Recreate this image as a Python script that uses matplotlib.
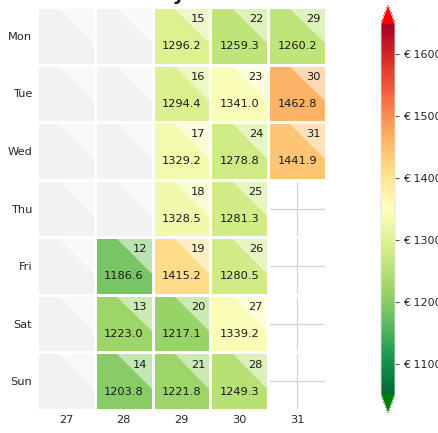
import matplotlib
matplotlib.use("Agg")
import matplotlib.pyplot as plt
import matplotlib.colors as mcolors
from matplotlib.patches import Rectangle, Polygon
import numpy as np

# ---- data ----
weeks = [27, 28, 29, 30, 31]
weekdays = ["Mon", "Tue", "Wed", "Thu", "Fri", "Sat", "Sun"]
day_numbers = [12, 13, 14, 15, 16, 17, 18, 19, 20, 21, 22, 23, 24, 25, 26, 27, 28, 29, 30, 31]
day_weeks   = [28, 28, 28, 29, 29, 29, 29, 29, 29, 29, 30, 30, 30, 30, 30, 30, 30, 31, 31, 31]
day_wdays   = [4, 5, 6, 0, 1, 2, 3, 4, 5, 6, 0, 1, 2, 3, 4, 5, 6, 0, 1, 2]
values = [1186.6, 1223.0, 1203.8,
          1296.2, 1294.4, 1329.2, 1328.5, 1415.2, 1217.1, 1221.8,
          1259.3, 1341.0, 1278.8, 1281.3, 1280.5, 1339.2, 1249.3,
          1260.2, 1462.8, 1441.9]
# days of the month without data (July 1-11)
empty_weeks = [27, 27, 27, 27, 27, 27, 27, 28, 28, 28, 28]
empty_wdays = [0, 1, 2, 3, 4, 5, 6, 0, 1, 2, 3]
# days outside the month (Aug 1-4)
out_weeks = [31, 31, 31, 31]
out_wdays = [3, 4, 5, 6]
cbar_ticks = [1100, 1200, 1300, 1400, 1500, 1600]
vmin, vmax = 1050, 1650

W, H = 439, 433
fig = plt.figure(figsize=(W / 100, H / 100), dpi=100)
ax = fig.add_axes([37 / W, 1 - 410 / H, 289 / W, 403 / H])
ax.set_xlim(-0.5, len(weeks) - 0.5)
ax.set_ylim(len(weekdays) - 0.5, -0.5)
for s in ax.spines.values():
    s.set_visible(False)
ax.set_axisbelow(True)
ax.grid(True, color="#d4d4d4", linewidth=0.9, zorder=0)
ax.set_xticks(range(len(weeks)))
ax.set_xticklabels([str(w) for w in weeks])
ax.set_yticks(range(len(weekdays)))
ax.set_yticklabels(weekdays)
ax.tick_params(length=0, labelsize=8.2, labelcolor="#262626", pad=3.5)

cmap = plt.get_cmap("RdYlGn_r").copy()
cmap.set_over("red")
cmap.set_under("green")
norm = mcolors.Normalize(vmin=vmin, vmax=vmax)

edge_lw = 2.0
tri = 0.65


def draw_cell(col, row, color):
    x0, y0 = col - 0.5, row - 0.5
    ax.add_patch(Rectangle((x0, y0), 1, 1, facecolor=color, edgecolor="white",
                           linewidth=edge_lw, zorder=2))
    light = 0.5 * np.array(mcolors.to_rgb(color)) + 0.5
    ax.add_patch(Polygon([(x0 + 1 - tri, y0), (x0 + 1, y0), (x0 + 1, y0 + tri)],
                         closed=True, facecolor=light, edgecolor="none", zorder=3))
    ax.add_patch(Rectangle((x0, y0), 1, 1, facecolor="none", edgecolor="white",
                           linewidth=edge_lw, zorder=4))


for wk, wd in zip(empty_weeks, empty_wdays):
    draw_cell(weeks.index(wk), wd, "#f2f2f2")

for wk, wd in zip(out_weeks, out_wdays):
    c = weeks.index(wk)
    ax.add_patch(Rectangle((c - 0.5, wd - 0.5), 1, 1, facecolor="none",
                           edgecolor="white", linewidth=edge_lw, zorder=2))

for d, wk, wd, v in zip(day_numbers, day_weeks, day_wdays, values):
    c = weeks.index(wk)
    draw_cell(c, wd, cmap(norm(v)))
    ax.text(c + 0.41, wd - 0.29, str(d), ha="right", va="center",
            fontsize=8.2, color="#1a1a1a", zorder=5)
    ax.text(c, wd + 0.18, f"{v:.1f}", ha="center", va="center",
            fontsize=8.2, color="#1a1a1a", zorder=5)

# title (almost entirely cut off at the top in the reference)
fig.text(186 / W, 1 - 0.5 / H, "Daily", ha="right", va="baseline",
         fontsize=14, fontweight="bold", color="#1a1a1a")

# colorbar
cax = fig.add_axes([381 / W, 1 - 413 / H, 14 / W, 408 / H])
sm = matplotlib.cm.ScalarMappable(norm=norm, cmap=cmap)
cb = fig.colorbar(sm, cax=cax, extend="both", ticks=cbar_ticks)
cb.outline.set_edgecolor("#e0e0e0")
cb.outline.set_linewidth(0.6)
cb.ax.set_yticklabels([f"€ {t}" for t in cbar_ticks])
cb.ax.tick_params(labelsize=8, labelcolor="#262626", length=3, width=0.8,
                  color="#555555", pad=3)

fig.savefig("out.png", dpi=100)
